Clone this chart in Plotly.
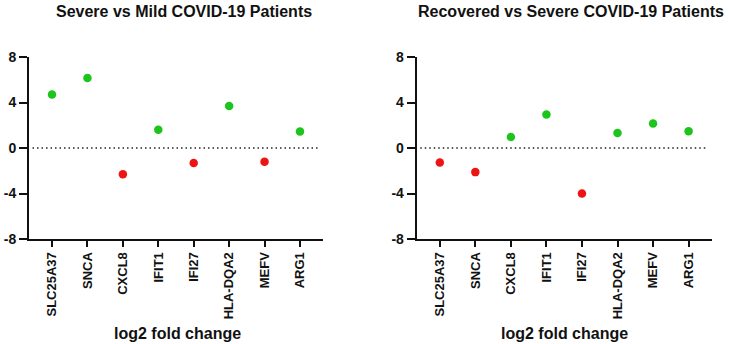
import plotly.graph_objects as go

genes = ["SLC25A37", "SNCA", "CXCL8", "IFIT1", "IFI27", "HLA-DQA2", "MEFV", "ARG1"]
severe_vs_mild = [4.7, 6.15, -2.3, 1.6, -1.32, 3.7, -1.2, 1.45]
recovered_vs_severe = [-1.27, -2.12, 0.97, 2.95, -4.0, 1.32, 2.15, 1.47]
titles = ["Severe vs Mild COVID-19 Patients", "Recovered vs Severe COVID-19 Patients"]
x_title = "log2 fold change"
y_ticks = [8, 4, 0, -4, -8]

GREEN = "#1cc41c"
RED = "#ee1414"
FONT = "Liberation Sans, Arial, sans-serif"
W, H = 729, 344

fig = go.Figure()

panels = [
    (severe_vs_mild, [29 / W, 323 / W], 184, 177),
    (recovered_vs_severe, [416.7 / W, 711.7 / W], 571, 564),
]
y_dom = [(H - 239) / H, (H - 57) / H]
idx = list(range(len(genes)))

for i, (vals, xdom, tcx, xtcx) in enumerate(panels):
    sfx = "" if i == 0 else str(i + 1)
    xa, ya = "x" + sfx, "y" + sfx
    colors = [GREEN if v >= 0 else RED for v in vals]
    # dotted zero line
    fig.add_trace(go.Scatter(
        x=[-0.55, 7.55], y=[0, 0], mode="lines", xaxis=xa, yaxis=ya,
        line=dict(color="#222222", width=1.6, dash="1.5px,3px"),
        showlegend=False, hoverinfo="skip",
    ))
    fig.add_trace(go.Scatter(
        x=idx, y=vals, mode="markers", xaxis=xa, yaxis=ya,
        marker=dict(size=8.5, color=colors, line=dict(width=0)),
        showlegend=False, cliponaxis=False,
    ))
    fig.update_layout(**{
        "xaxis" + sfx: dict(
            domain=xdom, anchor=ya, type="linear", automargin=False,
            range=[-0.65, 7.65],
            tickmode="array", tickvals=idx, ticktext=genes,
            tickangle=-90, ticks="outside", ticklen=6, tickwidth=2, tickcolor="#111",
            showline=True, linecolor="#111", linewidth=2,
            showgrid=False, zeroline=False,
            tickfont=dict(family=FONT, size=13, color="#111", weight="bold"),
        ),
        "yaxis" + sfx: dict(
            domain=y_dom, anchor=xa, range=[-8, 8], automargin=False,
            tickmode="array", tickvals=y_ticks, ticktext=[str(t) for t in y_ticks],
            ticks="outside", ticklen=8, tickwidth=2, tickcolor="#111",
            showline=True, linecolor="#111", linewidth=2,
            showgrid=False, zeroline=False,
            tickfont=dict(family=FONT, size=14, color="#111", weight="bold"),
        ),
    })
    fig.add_annotation(
        text="<b>" + titles[i] + "</b>", xref="paper", yref="paper",
        x=tcx / W, y=1 - 11 / H, yanchor="middle", xanchor="center", showarrow=False,
        font=dict(family=FONT, size=16, color="#111"),
    )
    fig.add_annotation(
        text="<b>" + x_title + "</b>", xref="paper", yref="paper",
        x=xtcx / W, y=1 - 333 / H, yanchor="middle", xanchor="center", showarrow=False,
        font=dict(family=FONT, size=16, color="#111"),
    )

fig.update_layout(
    width=W, height=H,
    margin=dict(l=0, r=0, t=0, b=0),
    paper_bgcolor="white", plot_bgcolor="white",
)

fig.write_html("out.html", config={"displayModeBar": False},
               post_script="document.body.style.margin='0px';")
